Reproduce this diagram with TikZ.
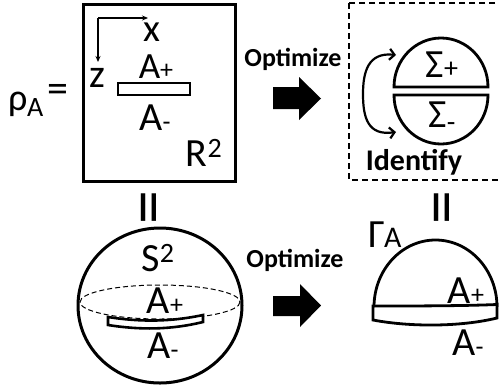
\documentclass[tikz,border=0pt]{standalone}
\usepackage{fontspec}
\setmainfont{Carlito}
\usetikzlibrary{arrows.meta}
\newcommand{\fs}[1]{\fontsize{#1bp}{#1bp}\selectfont}
\newcommand{\Ap}{A{\fs{26}+}}
\newcommand{\Am}{A{\fs{26}-}}
\begin{document}
\begin{tikzpicture}[x=1bp,y=-1bp,
  lbl/.style={inner sep=0pt,anchor=base,font=\fs{40}},
  bld/.style={inner sep=0pt,anchor=base,font=\bfseries\fs{26}},
  thick line/.style={line width=2.8bp},
  blk/.style={fill=black},
  barb/.style={line width=2.2bp,{Straight Barb[length=5bp,width=11bp]}-{Straight Barb[length=5bp,width=11bp]}},
  eqv/.style={inner sep=0pt,rotate=90,font=\fs{68}}]
\useasboundingbox (0,0) rectangle (499,387);
% top-left box
\node[draw,line width=3bp,minimum width=152bp,minimum height=177bp,inner sep=0pt] (box) at (159,92.5) {};
\coordinate (o) at (98,18);
\coordinate (xe) at (148,18);
\coordinate (ze) at (98,62);
\draw[line width=1.3bp,-{Stealth[length=6bp,width=5bp]}] (o) -- (xe);
\draw[line width=1.3bp,-{Stealth[length=6bp,width=5bp]}] (o) -- (ze);
\node[lbl,font=\fs{39}] (xl) at (152,41) {x};
\node[lbl,font=\fs{40}] (zl) at (97,87) {z};
\node[draw,line width=2.6bp,minimum width=72bp,minimum height=12bp,inner sep=0pt] (slit) at (154,89) {};
\node[lbl,font=\fs{37}] (ap1) at (156,78) {\Ap};
\node[lbl] (am1) at (155,130) {\Am};
\node[lbl] (r2) at (204,166) {R$^{\mathrm{2}}$};
\node[inner sep=0pt,anchor=base west,font=\fs{38}] (rho) at (8,110) {ρ};
\node[inner sep=0pt,anchor=base west,font=\fs{28}] (rhoa) at (27,116) {A};
\node[inner sep=0pt,font=\fs{42}] (eq0) at (58,93) {=};
% top arrow
\node[bld] (opt1) at (293,66) {Optimize};
\fill[blk] (273,87) -- (299,87) -- (299,77) -- (321,98.5) -- (299,120) -- (299,109) -- (273,109) -- cycle;
% dashed box
\draw[line width=1.4bp,dash pattern=on 6bp off 4bp] (349,3) rectangle (505,180);
\draw[thick line] (394,87) arc (180:360:47 and 49) -- cycle;
\draw[thick line] (394,95) arc (180:0:47 and 49) -- cycle;
\node[lbl] (sp) at (442,77) {Σ{\fs{28}+}};
\node[lbl] (sm) at (442,127) {Σ\raisebox{-0.1em}{\fs{28}-}};
\coordinate (i1) at (396,55);
\coordinate (i2) at (396,132);
\draw[barb] (i1) .. controls (368,52) and (363,72) .. (363,94) .. controls (363,118) and (368,136) .. (i2);
\node[bld,font=\bfseries\fs{30}] (idf) at (414,170) {Identify};
% equals
\node[eqv] (eq1) at (156,208) {=};
\node[eqv] (eq2) at (449,208) {=};
% sphere
\draw[line width=3bp] (160,305.5) ellipse (82 and 77.5);
\draw[line width=1bp,dash pattern=on 5bp off 3bp] (160,302) ellipse (80 and 17);
\filldraw[fill=white,line width=2.6bp] (108,317) .. controls (140,322) and (170,322) .. (203,315) -- (203,322) .. controls (170,330) and (140,330) .. (108,325) -- cycle;
\node[lbl] (s2) at (158,271) {S$^{\mathrm{2}}$};
\node[lbl] (ap2) at (165,313) {\Ap};
\node[lbl] (am2) at (163,358) {\Am};
% bottom arrow
\node[bld] (opt2) at (295,267) {Optimize};
\fill[blk] (273,296) -- (300,296) -- (300,284) -- (321,305.5) -- (300,327) -- (300,316) -- (273,316) -- cycle;
% hemisphere
\draw[thick line] (374,307) arc (180:360:61.5 and 67);
\filldraw[fill=white,thick line] (373,306) .. controls (410,306) and (460,306) .. (497,304.5) -- (497,318) .. controls (460,327) and (410,327) .. (373,320) -- cycle;
\node[inner sep=0pt,anchor=base west,font=\fs{40}] (gam) at (368,247) {Γ};
\node[inner sep=0pt,anchor=base west,font=\fs{30}] (gama) at (384,247) {A};
\node[lbl] (ap3) at (466,303) {\Ap};
\node[lbl] (am3) at (468,355) {\Am};
\end{tikzpicture}
\end{document}
